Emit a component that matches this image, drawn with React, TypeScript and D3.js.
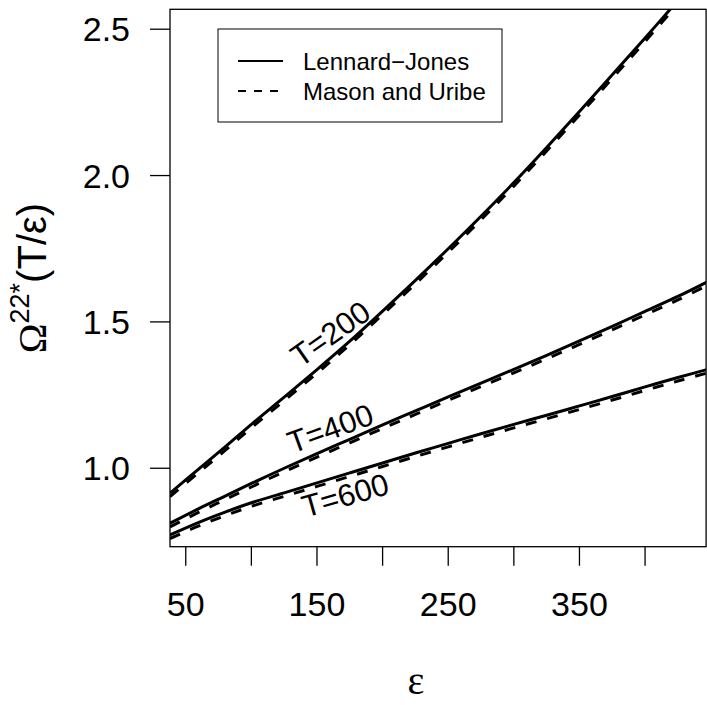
import React from "react";
import * as d3 from "d3";

const epsGrid = [38, 60, 80, 100, 125, 150, 175, 200, 225, 250, 275, 300, 325, 350, 375, 400, 425, 447];
const lj200 = [0.915, 0.998, 1.073, 1.15, 1.243, 1.337, 1.434, 1.537, 1.642, 1.75, 1.861, 1.976, 2.096, 2.219, 2.344, 2.47, 2.598, 2.71];
const mu200 = [0.903, 0.986, 1.061, 1.138, 1.231, 1.325, 1.422, 1.525, 1.63, 1.738, 1.849, 1.964, 2.084, 2.207, 2.332, 2.458, 2.586, 2.698];
const lj400 = [0.812, 0.862, 0.905, 0.948, 1.0, 1.05, 1.099, 1.148, 1.196, 1.244, 1.291, 1.338, 1.386, 1.435, 1.485, 1.536, 1.587, 1.636];
const mu400 = [0.8, 0.85, 0.893, 0.936, 0.988, 1.038, 1.087, 1.136, 1.184, 1.232, 1.279, 1.326, 1.374, 1.423, 1.473, 1.524, 1.575, 1.624];
const lj600 = [0.772, 0.815, 0.85, 0.882, 0.916, 0.95, 0.984, 1.018, 1.052, 1.085, 1.118, 1.15, 1.181, 1.213, 1.245, 1.278, 1.31, 1.337];
const mu600 = [0.76, 0.803, 0.838, 0.87, 0.904, 0.938, 0.972, 1.006, 1.04, 1.073, 1.106, 1.138, 1.169, 1.201, 1.233, 1.266, 1.298, 1.325];

const xTicks = [50, 100, 150, 200, 250, 300, 350, 400];
const xTickLabels = ["50", "", "150", "", "250", "", "350", ""];
const yTicks = [1.0, 1.5, 2.0, 2.5];
const yTickLabels = ["1.0", "1.5", "2.0", "2.5"];

const curveLabels = ["T=200", "T=400", "T=600"];
const curveLabelX = [160, 160, 171.4];
const curveLabelY = [1.461, 1.137, 0.909];
const curveLabelAngle = [-35, -20, -16];

const legendLabels = ["Lennard\u2212Jones", "Mason and Uribe"];

const W = 707;
const H = 705;
const left = 170;
const right = 706.1;
const top = 9.3;
const bottom = 546.7;

export default function App() {
  const x = d3.scaleLinear().domain([38, 446.5]).range([left, right]);
  const y = d3.scaleLinear().domain([0.732, 2.568]).range([bottom, top]);
  const line = (vals: number[]) =>
    d3
      .line<number>()
      .x((_, i) => x(epsGrid[i]))
      .y((v) => y(v))
      .curve(d3.curveCatmullRom.alpha(0.5))(vals) || "";

  const solids = [lj200, lj400, lj600];
  const dashes = [mu200, mu400, mu600];
  const sans = "'Liberation Sans', Arial, Helvetica, sans-serif";
  const serif = "'Liberation Serif', 'Times New Roman', serif";

  return (
    <svg width={W} height={H} style={{ position: "absolute", left: 0, top: 0, background: "#fff" }}>
      <defs>
        <clipPath id="plotclip">
          <rect x={left} y={top} width={right - left} height={bottom - top} />
        </clipPath>
      </defs>
      <rect x={0} y={0} width={W} height={H} fill="#fff" />
      <g clipPath="url(#plotclip)">
        {solids.map((s, i) => (
          <path key={"s" + i} d={line(s)} fill="none" stroke="#000" strokeWidth={3} />
        ))}
        {dashes.map((s, i) => (
          <path key={"d" + i} d={line(s)} fill="none" stroke="#000" strokeWidth={3} strokeDasharray="11,11" />
        ))}
      </g>
      <rect x={left} y={top} width={right - left} height={bottom - top} fill="none" stroke="#000" strokeWidth={1.3} />
      {xTicks.map((t, i) => (
        <g key={"xt" + i}>
          <line x1={x(t)} x2={x(t)} y1={bottom} y2={bottom + 19} stroke="#000" strokeWidth={1.3} />
          {xTickLabels[i] && (
            <text x={x(t)} y={616} textAnchor="middle" fontFamily={sans} fontSize={34}>
              {xTickLabels[i]}
            </text>
          )}
        </g>
      ))}
      {yTicks.map((t, i) => (
        <g key={"yt" + i}>
          <line x1={left - 20} x2={left} y1={y(t)} y2={y(t)} stroke="#000" strokeWidth={1.3} />
          <text x={130} y={y(t)} dy="0.36em" textAnchor="end" fontFamily={sans} fontSize={34}>
            {yTickLabels[i]}
          </text>
        </g>
      ))}
      {curveLabels.map((lab, i) => (
        <text
          key={"cl" + i}
          x={x(curveLabelX[i])}
          y={y(curveLabelY[i])}
          dy="0.36em"
          textAnchor="middle"
          fontFamily={sans}
          fontSize={31}
          transform={`rotate(${curveLabelAngle[i]} ${x(curveLabelX[i])} ${y(curveLabelY[i])})`}
        >
          {lab}
        </text>
      ))}
      <rect x={218} y={29} width={284} height={93} fill="#fff" stroke="#000" strokeWidth={1} />
      <line x1={238} x2={283} y1={61} y2={61} stroke="#000" strokeWidth={2} />
      <line x1={238} x2={283} y1={91} y2={91} stroke="#000" strokeWidth={2} strokeDasharray="8,8" />
      <text x={303} y={70} fontFamily={sans} fontSize={24}>
        {legendLabels[0]}
      </text>
      <text x={303} y={100} fontFamily={sans} fontSize={24}>
        {legendLabels[1]}
      </text>
      <text x={416} y={694} textAnchor="middle" fontFamily={serif} fontSize={40}>
        {"\u03b5"}
      </text>
      <text transform="translate(46,278) rotate(-90)" textAnchor="middle" fontFamily={sans} fontSize={40}>
        <tspan fontFamily={serif}>{"\u03a9"}</tspan>
        <tspan fontSize={27} dy={-17}>22*</tspan>
        <tspan dy={17}>(T/{"\u03b5"})</tspan>
      </text>
    </svg>
  );
}
